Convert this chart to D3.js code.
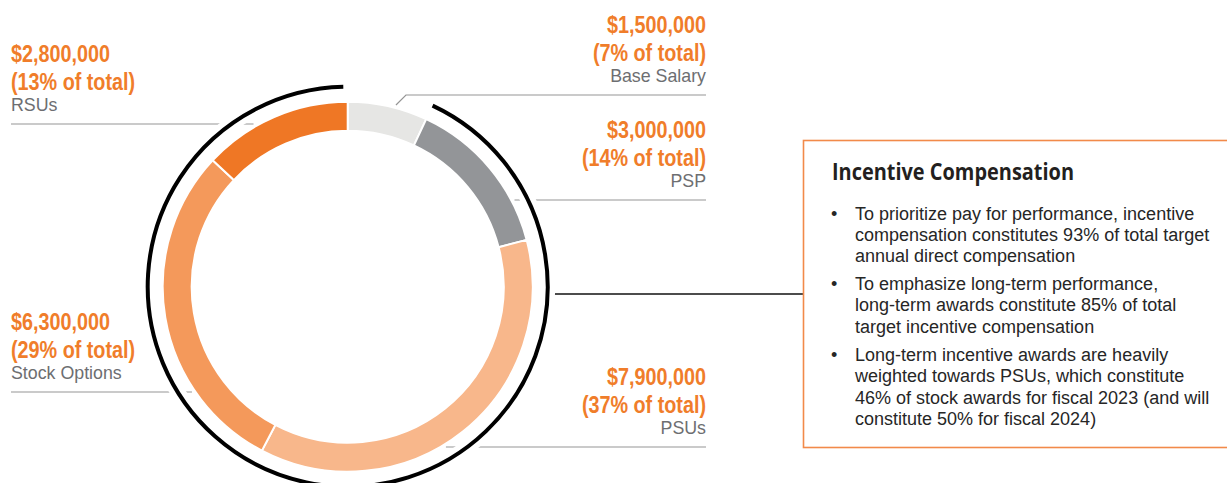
<!DOCTYPE html>
<html>
<head>
<meta charset="utf-8">
<script src="https://cdn.jsdelivr.net/npm/d3@7"></script>
<style>
  html, body { margin: 0; padding: 0; background: #fff; }
  svg { display: block; }
</style>
</head>
<body>
<svg id="chart" width="1227" height="483"></svg>
<script>
// Pay mix components, clockwise from 12 o'clock
const categories = ["Base Salary", "PSP", "PSUs", "Stock Options", "RSUs"];
const amounts = [1500000, 3000000, 7900000, 6300000, 2800000];
const shareLabels = ["7%", "14%", "37%", "29%", "13%"];
const sliceColors = ["#e6e6e4", "#939598", "#f8b78b", "#f4995b", "#ef7725"];

// Callout panel text
const panelTitle = "Incentive Compensation";
const bullets = [
  ["To prioritize pay for performance, incentive",
   "compensation constitutes 93% of total target",
   "annual direct compensation"],
  ["To emphasize long-term performance,",
   "long-term awards constitute 85% of total",
   "target incentive compensation"],
  ["Long-term incentive awards are heavily",
   "weighted towards PSUs, which constitute",
   "46% of stock awards for fiscal 2023 (and will",
   "constitute 50% for fiscal 2024)"]
];

// Label placement for each slice (same order as categories)
const labelLayout = [
  { side: "right", lineY: 95, elbow: 10 },
  { side: "right", lineY: 200, elbow: 0 },
  { side: "right", lineY: 447, elbow: 0 },
  { side: "left", lineY: 392, elbow: 0 },
  { side: "left", lineY: 124, elbow: 0 }
];

const svg = d3.select("#chart");
const cx = 347.7, cy = 286.7;
const rInner = 156, rOuter = 185, rLeader = 188, rBracket = 200;
const leftX = 11, rightX = 706;
const orange = "#f07d2a";
const nameGray = "#6d6e71";
const lineGray = "#959595";

const data = categories.map((c, i) => ({
  name: c, value: amounts[i], share: shareLabels[i], color: sliceColors[i], layout: labelLayout[i]
}));

const pie = d3.pie().value(d => d.value).sort(null);
const arcs = pie(data);
const arcGen = d3.arc().innerRadius(rInner).outerRadius(rOuter);
const fmt = d3.format("$,");

// Leader lines (drawn first so the bracket's white halo cuts through them)
const leaders = svg.append("g");
arcs.forEach(a => {
  const L = a.data.layout;
  const yEnd = L.lineY + L.elbow;
  const dy = yEnd - cy;
  const dx = Math.sqrt(rLeader * rLeader - dy * dy);
  const pts = [];
  if (L.side === "right") {
    const x0 = cx + dx;
    pts.push([x0, yEnd]);
    if (L.elbow) pts.push([x0 + L.elbow, L.lineY]);
    pts.push([rightX, L.lineY]);
  } else {
    const x0 = cx - dx;
    pts.push([leftX, L.lineY]);
    pts.push([x0, yEnd]);
  }
  leaders.append("path")
    .attr("d", d3.line()(pts))
    .attr("fill", "none")
    .attr("stroke", lineGray)
    .attr("stroke-width", 1.2);
});

// Connector from the incentive bracket to the callout panel
const panel = { x: 803.5, y: 140.5, w: 460, h: 307 };
const connY = 294;
const connX0 = cx + Math.sqrt(rBracket * rBracket - (connY - cy) * (connY - cy));
svg.append("line")
  .attr("x1", connX0).attr("x2", panel.x)
  .attr("y1", connY).attr("y2", connY)
  .attr("stroke", "#111").attr("stroke-width", 1.5);

// Bracket arc spanning all incentive components (everything but base salary)
const bracketStart = arcs[0].endAngle;
const bracketEnd = 2 * Math.PI - 0.022;
const bp = d3.path();
bp.arc(cx, cy, rBracket, bracketStart - Math.PI / 2, bracketEnd - Math.PI / 2);
svg.append("path").attr("d", bp.toString())
  .attr("fill", "none").attr("stroke", "#fff").attr("stroke-width", 15);
svg.append("path").attr("d", bp.toString())
  .attr("fill", "none").attr("stroke", "#000").attr("stroke-width", 4);

// Donut ring
svg.append("g")
  .attr("transform", `translate(${cx},${cy})`)
  .selectAll("path")
  .data(arcs)
  .join("path")
  .attr("d", arcGen)
  .attr("fill", d => d.data.color)
  .attr("stroke", "#fff")
  .attr("stroke-width", 2);

// Value labels
const condense = 0.86;
const labels = svg.append("g");
arcs.forEach(a => {
  const L = a.data.layout;
  const x = L.side === "right" ? rightX : leftX;
  const anchor = L.side === "right" ? "end" : "start";
  const g = labels.append("g").attr("transform", `translate(${x},0)`);
  g.append("text")
    .attr("transform", `translate(0,${L.lineY - 62}) scale(${condense},1)`)
    .attr("text-anchor", anchor)
    .attr("font-family", "Liberation Sans, Arial, sans-serif")
    .attr("font-weight", 700).attr("font-size", 23)
    .attr("fill", orange)
    .text(fmt(a.data.value));
  g.append("text")
    .attr("transform", `translate(0,${L.lineY - 34}) scale(${condense},1)`)
    .attr("text-anchor", anchor)
    .attr("font-family", "Liberation Sans, Arial, sans-serif")
    .attr("font-weight", 700).attr("font-size", 23)
    .attr("fill", orange)
    .text(`(${a.data.share} of total)`);
  g.append("text")
    .attr("y", L.lineY - 13.5)
    .attr("text-anchor", anchor)
    .attr("font-family", "Liberation Sans, Arial, sans-serif")
    .attr("font-size", 17.8)
    .attr("fill", nameGray)
    .text(a.data.name);
});

// Callout panel
svg.append("rect")
  .attr("x", panel.x).attr("y", panel.y)
  .attr("width", panel.w).attr("height", panel.h)
  .attr("fill", "#fff")
  .attr("stroke", "#f28a4a").attr("stroke-width", 1.6);

svg.append("text")
  .attr("x", 832).attr("y", 180)
  .attr("font-family", "Open Sans, sans-serif")
  .attr("font-weight", 700).attr("font-size", 23)
  .attr("fill", "#231f20")
  .attr("textLength", 242).attr("lengthAdjust", "spacingAndGlyphs")
  .text(panelTitle);

const bulletStarts = [219.5, 290, 361];
const lineStep = 21.4;
const body = svg.append("g")
  .attr("font-family", "Liberation Sans, Arial, sans-serif")
  .attr("font-size", 18)
  .attr("fill", "#262626");
bullets.forEach((lines, i) => {
  body.append("text").attr("x", 831).attr("y", bulletStarts[i]).text("•");
  lines.forEach((ln, j) => {
    body.append("text")
      .attr("x", 855).attr("y", bulletStarts[i] + j * lineStep)
      .text(ln);
  });
});
</script>
</body>
</html>
